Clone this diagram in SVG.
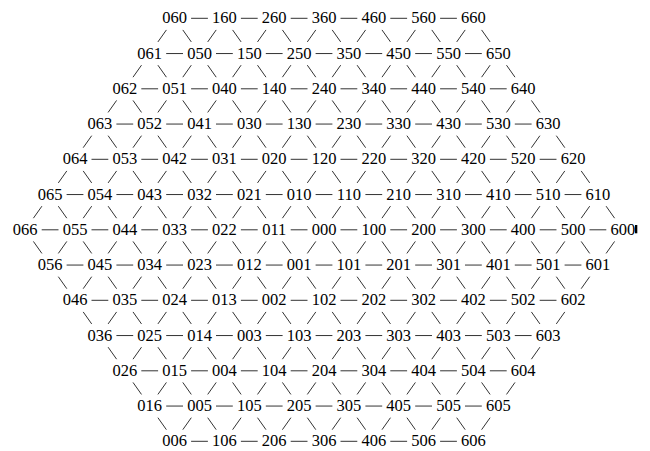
<svg xmlns="http://www.w3.org/2000/svg" width="650" height="451" viewBox="0 0 650 451">
<style>
text{font-family:"Liberation Serif","Times New Roman",serif;font-size:16.5px;text-anchor:middle;fill:#000}
.e{fill:none;stroke:#333;stroke-width:1}
</style>
<rect width="650" height="451" fill="#fff"/>
<g id="connectors">
<g id="horizontal">
<path class="e" d="M191.1,18.3h16.8m33,0h16.8m33,0h16.8m33,0h16.8m33,0h16.8m33,0h16.8"/>
<path class="e" d="M166.2,53.55h16.8m33,0h16.8m33,0h16.8m33,0h16.8m33,0h16.8m33,0h16.8m33,0h16.8"/>
<path class="e" d="M141.3,88.8h16.8m33,0h16.8m33,0h16.8m33,0h16.8m33,0h16.8m33,0h16.8m33,0h16.8m33,0h16.8"/>
<path class="e" d="M116.4,124.05h16.8m33,0h16.8m33,0h16.8m33,0h16.8m33,0h16.8m33,0h16.8m33,0h16.8m33,0h16.8m33,0h16.8"/>
<path class="e" d="M91.5,159.3h16.8m33,0h16.8m33,0h16.8m33,0h16.8m33,0h16.8m33,0h16.8m33,0h16.8m33,0h16.8m33,0h16.8m33,0h16.8"/>
<path class="e" d="M66.6,194.55h16.8m33,0h16.8m33,0h16.8m33,0h16.8m33,0h16.8m33,0h16.8m33,0h16.8m33,0h16.8m33,0h16.8m33,0h16.8m33,0h16.8"/>
<path class="e" d="M41.7,229.8h16.8m33,0h16.8m33,0h16.8m33,0h16.8m33,0h16.8m33,0h16.8m33,0h16.8m33,0h16.8m33,0h16.8m33,0h16.8m33,0h16.8m33,0h16.8"/>
<path class="e" d="M66.6,265.05h16.8m33,0h16.8m33,0h16.8m33,0h16.8m33,0h16.8m33,0h16.8m33,0h16.8m33,0h16.8m33,0h16.8m33,0h16.8m33,0h16.8"/>
<path class="e" d="M91.5,300.3h16.8m33,0h16.8m33,0h16.8m33,0h16.8m33,0h16.8m33,0h16.8m33,0h16.8m33,0h16.8m33,0h16.8m33,0h16.8"/>
<path class="e" d="M116.4,335.55h16.8m33,0h16.8m33,0h16.8m33,0h16.8m33,0h16.8m33,0h16.8m33,0h16.8m33,0h16.8m33,0h16.8"/>
<path class="e" d="M141.3,370.8h16.8m33,0h16.8m33,0h16.8m33,0h16.8m33,0h16.8m33,0h16.8m33,0h16.8m33,0h16.8"/>
<path class="e" d="M166.2,406.05h16.8m33,0h16.8m33,0h16.8m33,0h16.8m33,0h16.8m33,0h16.8m33,0h16.8"/>
<path class="e" d="M191.1,441.3h16.8m33,0h16.8m33,0h16.8m33,0h16.8m33,0h16.8m33,0h16.8"/>
</g>
<g id="diagonal">
<path class="e" d="M166.4,29.93l-8.5,12m24.9,-12l8.5,12m24.9,-12l-8.5,12m24.9,-12l8.5,12m24.9,-12l-8.5,12m24.9,-12l8.5,12m24.9,-12l-8.5,12m24.9,-12l8.5,12m24.9,-12l-8.5,12m24.9,-12l8.5,12m24.9,-12l-8.5,12m24.9,-12l8.5,12m24.9,-12l-8.5,12m24.9,-12l8.5,12"/>
<path class="e" d="M141.5,65.18l-8.5,12m24.9,-12l8.5,12m24.9,-12l-8.5,12m24.9,-12l8.5,12m24.9,-12l-8.5,12m24.9,-12l8.5,12m24.9,-12l-8.5,12m24.9,-12l8.5,12m24.9,-12l-8.5,12m24.9,-12l8.5,12m24.9,-12l-8.5,12m24.9,-12l8.5,12m24.9,-12l-8.5,12m24.9,-12l8.5,12m24.9,-12l-8.5,12m24.9,-12l8.5,12"/>
<path class="e" d="M116.6,100.43l-8.5,12m24.9,-12l8.5,12m24.9,-12l-8.5,12m24.9,-12l8.5,12m24.9,-12l-8.5,12m24.9,-12l8.5,12m24.9,-12l-8.5,12m24.9,-12l8.5,12m24.9,-12l-8.5,12m24.9,-12l8.5,12m24.9,-12l-8.5,12m24.9,-12l8.5,12m24.9,-12l-8.5,12m24.9,-12l8.5,12m24.9,-12l-8.5,12m24.9,-12l8.5,12m24.9,-12l-8.5,12m24.9,-12l8.5,12"/>
<path class="e" d="M91.7,135.68l-8.5,12m24.9,-12l8.5,12m24.9,-12l-8.5,12m24.9,-12l8.5,12m24.9,-12l-8.5,12m24.9,-12l8.5,12m24.9,-12l-8.5,12m24.9,-12l8.5,12m24.9,-12l-8.5,12m24.9,-12l8.5,12m24.9,-12l-8.5,12m24.9,-12l8.5,12m24.9,-12l-8.5,12m24.9,-12l8.5,12m24.9,-12l-8.5,12m24.9,-12l8.5,12m24.9,-12l-8.5,12m24.9,-12l8.5,12m24.9,-12l-8.5,12m24.9,-12l8.5,12"/>
<path class="e" d="M66.8,170.93l-8.5,12m24.9,-12l8.5,12m24.9,-12l-8.5,12m24.9,-12l8.5,12m24.9,-12l-8.5,12m24.9,-12l8.5,12m24.9,-12l-8.5,12m24.9,-12l8.5,12m24.9,-12l-8.5,12m24.9,-12l8.5,12m24.9,-12l-8.5,12m24.9,-12l8.5,12m24.9,-12l-8.5,12m24.9,-12l8.5,12m24.9,-12l-8.5,12m24.9,-12l8.5,12m24.9,-12l-8.5,12m24.9,-12l8.5,12m24.9,-12l-8.5,12m24.9,-12l8.5,12m24.9,-12l-8.5,12m24.9,-12l8.5,12"/>
<path class="e" d="M41.9,206.18l-8.5,12m24.9,-12l8.5,12m24.9,-12l-8.5,12m24.9,-12l8.5,12m24.9,-12l-8.5,12m24.9,-12l8.5,12m24.9,-12l-8.5,12m24.9,-12l8.5,12m24.9,-12l-8.5,12m24.9,-12l8.5,12m24.9,-12l-8.5,12m24.9,-12l8.5,12m24.9,-12l-8.5,12m24.9,-12l8.5,12m24.9,-12l-8.5,12m24.9,-12l8.5,12m24.9,-12l-8.5,12m24.9,-12l8.5,12m24.9,-12l-8.5,12m24.9,-12l8.5,12m24.9,-12l-8.5,12m24.9,-12l8.5,12m24.9,-12l-8.5,12m24.9,-12l8.5,12"/>
<path class="e" d="M33.4,241.43l8.5,12m24.9,-12l-8.5,12m24.9,-12l8.5,12m24.9,-12l-8.5,12m24.9,-12l8.5,12m24.9,-12l-8.5,12m24.9,-12l8.5,12m24.9,-12l-8.5,12m24.9,-12l8.5,12m24.9,-12l-8.5,12m24.9,-12l8.5,12m24.9,-12l-8.5,12m24.9,-12l8.5,12m24.9,-12l-8.5,12m24.9,-12l8.5,12m24.9,-12l-8.5,12m24.9,-12l8.5,12m24.9,-12l-8.5,12m24.9,-12l8.5,12m24.9,-12l-8.5,12m24.9,-12l8.5,12m24.9,-12l-8.5,12m24.9,-12l8.5,12m24.9,-12l-8.5,12"/>
<path class="e" d="M58.3,276.68l8.5,12m24.9,-12l-8.5,12m24.9,-12l8.5,12m24.9,-12l-8.5,12m24.9,-12l8.5,12m24.9,-12l-8.5,12m24.9,-12l8.5,12m24.9,-12l-8.5,12m24.9,-12l8.5,12m24.9,-12l-8.5,12m24.9,-12l8.5,12m24.9,-12l-8.5,12m24.9,-12l8.5,12m24.9,-12l-8.5,12m24.9,-12l8.5,12m24.9,-12l-8.5,12m24.9,-12l8.5,12m24.9,-12l-8.5,12m24.9,-12l8.5,12m24.9,-12l-8.5,12m24.9,-12l8.5,12m24.9,-12l-8.5,12"/>
<path class="e" d="M83.2,311.93l8.5,12m24.9,-12l-8.5,12m24.9,-12l8.5,12m24.9,-12l-8.5,12m24.9,-12l8.5,12m24.9,-12l-8.5,12m24.9,-12l8.5,12m24.9,-12l-8.5,12m24.9,-12l8.5,12m24.9,-12l-8.5,12m24.9,-12l8.5,12m24.9,-12l-8.5,12m24.9,-12l8.5,12m24.9,-12l-8.5,12m24.9,-12l8.5,12m24.9,-12l-8.5,12m24.9,-12l8.5,12m24.9,-12l-8.5,12m24.9,-12l8.5,12m24.9,-12l-8.5,12"/>
<path class="e" d="M108.1,347.18l8.5,12m24.9,-12l-8.5,12m24.9,-12l8.5,12m24.9,-12l-8.5,12m24.9,-12l8.5,12m24.9,-12l-8.5,12m24.9,-12l8.5,12m24.9,-12l-8.5,12m24.9,-12l8.5,12m24.9,-12l-8.5,12m24.9,-12l8.5,12m24.9,-12l-8.5,12m24.9,-12l8.5,12m24.9,-12l-8.5,12m24.9,-12l8.5,12m24.9,-12l-8.5,12m24.9,-12l8.5,12m24.9,-12l-8.5,12"/>
<path class="e" d="M133,382.43l8.5,12m24.9,-12l-8.5,12m24.9,-12l8.5,12m24.9,-12l-8.5,12m24.9,-12l8.5,12m24.9,-12l-8.5,12m24.9,-12l8.5,12m24.9,-12l-8.5,12m24.9,-12l8.5,12m24.9,-12l-8.5,12m24.9,-12l8.5,12m24.9,-12l-8.5,12m24.9,-12l8.5,12m24.9,-12l-8.5,12m24.9,-12l8.5,12m24.9,-12l-8.5,12"/>
<path class="e" d="M157.9,417.68l8.5,12m24.9,-12l-8.5,12m24.9,-12l8.5,12m24.9,-12l-8.5,12m24.9,-12l8.5,12m24.9,-12l-8.5,12m24.9,-12l8.5,12m24.9,-12l-8.5,12m24.9,-12l8.5,12m24.9,-12l-8.5,12m24.9,-12l8.5,12m24.9,-12l-8.5,12m24.9,-12l8.5,12m24.9,-12l-8.5,12"/>
</g>
</g>
<g id="nodes">
<g id="n060"><text x="174.6" y="23.3">060</text></g>
<g id="n160"><text x="224.4" y="23.3">160</text></g>
<g id="n260"><text x="274.2" y="23.3">260</text></g>
<g id="n360"><text x="324" y="23.3">360</text></g>
<g id="n460"><text x="373.8" y="23.3">460</text></g>
<g id="n560"><text x="423.6" y="23.3">560</text></g>
<g id="n660"><text x="473.4" y="23.3">660</text></g>
<g id="n061"><text x="149.7" y="58.55">061</text></g>
<g id="n050"><text x="199.5" y="58.55">050</text></g>
<g id="n150"><text x="249.3" y="58.55">150</text></g>
<g id="n250"><text x="299.1" y="58.55">250</text></g>
<g id="n350"><text x="348.9" y="58.55">350</text></g>
<g id="n450"><text x="398.7" y="58.55">450</text></g>
<g id="n550"><text x="448.5" y="58.55">550</text></g>
<g id="n650"><text x="498.3" y="58.55">650</text></g>
<g id="n062"><text x="124.8" y="93.8">062</text></g>
<g id="n051"><text x="174.6" y="93.8">051</text></g>
<g id="n040"><text x="224.4" y="93.8">040</text></g>
<g id="n140"><text x="274.2" y="93.8">140</text></g>
<g id="n240"><text x="324" y="93.8">240</text></g>
<g id="n340"><text x="373.8" y="93.8">340</text></g>
<g id="n440"><text x="423.6" y="93.8">440</text></g>
<g id="n540"><text x="473.4" y="93.8">540</text></g>
<g id="n640"><text x="523.2" y="93.8">640</text></g>
<g id="n063"><text x="99.9" y="129.05">063</text></g>
<g id="n052"><text x="149.7" y="129.05">052</text></g>
<g id="n041"><text x="199.5" y="129.05">041</text></g>
<g id="n030"><text x="249.3" y="129.05">030</text></g>
<g id="n130"><text x="299.1" y="129.05">130</text></g>
<g id="n230"><text x="348.9" y="129.05">230</text></g>
<g id="n330"><text x="398.7" y="129.05">330</text></g>
<g id="n430"><text x="448.5" y="129.05">430</text></g>
<g id="n530"><text x="498.3" y="129.05">530</text></g>
<g id="n630"><text x="548.1" y="129.05">630</text></g>
<g id="n064"><text x="75" y="164.3">064</text></g>
<g id="n053"><text x="124.8" y="164.3">053</text></g>
<g id="n042"><text x="174.6" y="164.3">042</text></g>
<g id="n031"><text x="224.4" y="164.3">031</text></g>
<g id="n020"><text x="274.2" y="164.3">020</text></g>
<g id="n120"><text x="324" y="164.3">120</text></g>
<g id="n220"><text x="373.8" y="164.3">220</text></g>
<g id="n320"><text x="423.6" y="164.3">320</text></g>
<g id="n420"><text x="473.4" y="164.3">420</text></g>
<g id="n520"><text x="523.2" y="164.3">520</text></g>
<g id="n620"><text x="573" y="164.3">620</text></g>
<g id="n065"><text x="50.1" y="199.55">065</text></g>
<g id="n054"><text x="99.9" y="199.55">054</text></g>
<g id="n043"><text x="149.7" y="199.55">043</text></g>
<g id="n032"><text x="199.5" y="199.55">032</text></g>
<g id="n021"><text x="249.3" y="199.55">021</text></g>
<g id="n010"><text x="299.1" y="199.55">010</text></g>
<g id="n110"><text x="348.9" y="199.55">110</text></g>
<g id="n210"><text x="398.7" y="199.55">210</text></g>
<g id="n310"><text x="448.5" y="199.55">310</text></g>
<g id="n410"><text x="498.3" y="199.55">410</text></g>
<g id="n510"><text x="548.1" y="199.55">510</text></g>
<g id="n610"><text x="597.9" y="199.55">610</text></g>
<g id="n066"><text x="25.2" y="234.8">066</text></g>
<g id="n055"><text x="75" y="234.8">055</text></g>
<g id="n044"><text x="124.8" y="234.8">044</text></g>
<g id="n033"><text x="174.6" y="234.8">033</text></g>
<g id="n022"><text x="224.4" y="234.8">022</text></g>
<g id="n011"><text x="274.2" y="234.8">011</text></g>
<g id="n000"><text x="324" y="234.8">000</text></g>
<g id="n100"><text x="373.8" y="234.8">100</text></g>
<g id="n200"><text x="423.6" y="234.8">200</text></g>
<g id="n300"><text x="473.4" y="234.8">300</text></g>
<g id="n400"><text x="523.2" y="234.8">400</text></g>
<g id="n500"><text x="573" y="234.8">500</text></g>
<g id="n600"><text x="622.8" y="234.8">600</text><rect x="635" y="225" width="2.3" height="8.3" fill="#000"/></g>
<g id="n056"><text x="50.1" y="270.05">056</text></g>
<g id="n045"><text x="99.9" y="270.05">045</text></g>
<g id="n034"><text x="149.7" y="270.05">034</text></g>
<g id="n023"><text x="199.5" y="270.05">023</text></g>
<g id="n012"><text x="249.3" y="270.05">012</text></g>
<g id="n001"><text x="299.1" y="270.05">001</text></g>
<g id="n101"><text x="348.9" y="270.05">101</text></g>
<g id="n201"><text x="398.7" y="270.05">201</text></g>
<g id="n301"><text x="448.5" y="270.05">301</text></g>
<g id="n401"><text x="498.3" y="270.05">401</text></g>
<g id="n501"><text x="548.1" y="270.05">501</text></g>
<g id="n601"><text x="597.9" y="270.05">601</text></g>
<g id="n046"><text x="75" y="305.3">046</text></g>
<g id="n035"><text x="124.8" y="305.3">035</text></g>
<g id="n024"><text x="174.6" y="305.3">024</text></g>
<g id="n013"><text x="224.4" y="305.3">013</text></g>
<g id="n002"><text x="274.2" y="305.3">002</text></g>
<g id="n102"><text x="324" y="305.3">102</text></g>
<g id="n202"><text x="373.8" y="305.3">202</text></g>
<g id="n302"><text x="423.6" y="305.3">302</text></g>
<g id="n402"><text x="473.4" y="305.3">402</text></g>
<g id="n502"><text x="523.2" y="305.3">502</text></g>
<g id="n602"><text x="573" y="305.3">602</text></g>
<g id="n036"><text x="99.9" y="340.55">036</text></g>
<g id="n025"><text x="149.7" y="340.55">025</text></g>
<g id="n014"><text x="199.5" y="340.55">014</text></g>
<g id="n003"><text x="249.3" y="340.55">003</text></g>
<g id="n103"><text x="299.1" y="340.55">103</text></g>
<g id="n203"><text x="348.9" y="340.55">203</text></g>
<g id="n303"><text x="398.7" y="340.55">303</text></g>
<g id="n403"><text x="448.5" y="340.55">403</text></g>
<g id="n503"><text x="498.3" y="340.55">503</text></g>
<g id="n603"><text x="548.1" y="340.55">603</text></g>
<g id="n026"><text x="124.8" y="375.8">026</text></g>
<g id="n015"><text x="174.6" y="375.8">015</text></g>
<g id="n004"><text x="224.4" y="375.8">004</text></g>
<g id="n104"><text x="274.2" y="375.8">104</text></g>
<g id="n204"><text x="324" y="375.8">204</text></g>
<g id="n304"><text x="373.8" y="375.8">304</text></g>
<g id="n404"><text x="423.6" y="375.8">404</text></g>
<g id="n504"><text x="473.4" y="375.8">504</text></g>
<g id="n604"><text x="523.2" y="375.8">604</text></g>
<g id="n016"><text x="149.7" y="411.05">016</text></g>
<g id="n005"><text x="199.5" y="411.05">005</text></g>
<g id="n105"><text x="249.3" y="411.05">105</text></g>
<g id="n205"><text x="299.1" y="411.05">205</text></g>
<g id="n305"><text x="348.9" y="411.05">305</text></g>
<g id="n405"><text x="398.7" y="411.05">405</text></g>
<g id="n505"><text x="448.5" y="411.05">505</text></g>
<g id="n605"><text x="498.3" y="411.05">605</text></g>
<g id="n006"><text x="174.6" y="446.3">006</text></g>
<g id="n106"><text x="224.4" y="446.3">106</text></g>
<g id="n206"><text x="274.2" y="446.3">206</text></g>
<g id="n306"><text x="324" y="446.3">306</text></g>
<g id="n406"><text x="373.8" y="446.3">406</text></g>
<g id="n506"><text x="423.6" y="446.3">506</text></g>
<g id="n606"><text x="473.4" y="446.3">606</text></g>
</g>
</svg>
